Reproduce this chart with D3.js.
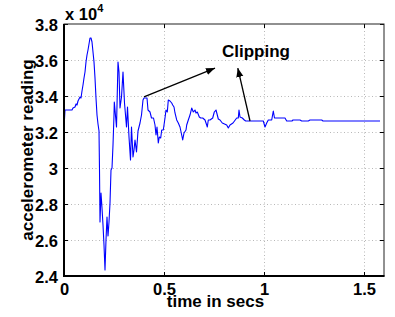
<!DOCTYPE html>
<html>
<head>
<meta charset="utf-8">
<script src="https://cdn.jsdelivr.net/npm/d3@7"></script>
<style>
  html, body { margin: 0; padding: 0; background: #fff; }
  svg { display: block; font-family: "Liberation Sans", Arial, Helvetica, sans-serif; }
</style>
</head>
<body>
<svg id="chart" width="395" height="317"></svg>
<script>
// ---- data ----
const timeSecs = [
  0, 0.005, 0.04, 0.045, 0.055, 0.06, 0.065, 0.07, 0.08, 0.085, 0.09, 0.095, 0.10, 0.105, 0.11, 0.115,
  0.12, 0.125, 0.13, 0.135, 0.14, 0.145, 0.15, 0.155, 0.16, 0.165, 0.17, 0.175, 0.1775, 0.18, 0.185,
  0.19, 0.195, 0.2, 0.205, 0.21, 0.215, 0.22, 0.225, 0.23, 0.235, 0.24, 0.245, 0.25, 0.2515, 0.2625,
  0.27, 0.275, 0.28, 0.2875, 0.295, 0.3025, 0.3125, 0.3175, 0.325, 0.3325, 0.3375, 0.345, 0.35, 0.355,
  0.3625, 0.37, 0.38, 0.3875, 0.395, 0.40, 0.415, 0.42, 0.43, 0.4375, 0.4475, 0.455, 0.46, 0.465,
  0.4715, 0.4765, 0.4835, 0.4885, 0.4965, 0.505, 0.51, 0.5165, 0.5215, 0.53, 0.5385, 0.5435, 0.55,
  0.555, 0.5635, 0.5715, 0.58, 0.5885, 0.5935, 0.60, 0.61, 0.6135, 0.6215, 0.63, 0.6385, 0.6465,
  0.655, 0.66, 0.6665, 0.6765, 0.6835, 0.6935, 0.705, 0.7135, 0.7165, 0.7215, 0.73, 0.7435, 0.7515,
  0.76, 0.7665, 0.7715, 0.78, 0.7915, 0.8135, 0.8215, 0.83, 0.845, 0.8635, 0.8715, 0.875, 0.88,
  0.8915, 0.9015, 0.9085, 0.9965, 1.005, 1.0135, 1.0215, 1.0385, 1.0465, 1.0525, 1.105, 1.1135,
  1.14, 1.145, 1.18, 1.1885, 1.2215, 1.23, 1.2885, 1.295, 1.58
];
const readings = [
  32222, 33222, 33222, 33333, 33389, 33556, 33500, 33722, 33944, 33889, 34278, 34611, 35000, 35333, 35889, 36278,
  36556, 36889, 37222, 37222, 37000, 36444, 35889, 35000, 33889, 32944, 32444, 32056, 29889, 27000, 28611,
  27778, 26833, 25722, 24333, 26000, 27278, 26222, 27000, 28056, 29889, 30000, 31278, 32944, 33667, 32278,
  35889, 35333, 33333, 33944, 35333, 33611, 32278, 33389, 31722, 30444, 32278, 30611, 31000, 31556,
  30889, 32056, 32500, 32944, 33778, 33889, 33889, 33222, 33111, 32778, 32778, 32389, 31833, 32278,
  31389, 31722, 31667, 32111, 32111, 32778, 33222, 33111, 33778, 33722, 33611, 33500, 33389,
  33056, 32667, 32500, 32278, 31833, 31556, 31944, 32111, 32389, 32667, 32944, 33333, 33111,
  33222, 33056, 33111, 32833, 32778, 32778, 32667, 32389, 32278, 32667, 32667, 32778, 33111,
  33222, 32944, 32722, 32667, 32500, 32389, 32222, 32389, 32500, 32778, 32778, 33222, 32833,
  32778, 32667, 32611, 32611, 32278, 32500, 32667, 32667, 33167, 32778, 32778, 32611,
  32611, 32667, 32667, 32611, 32611, 32667, 32667, 32611, 32611
];
const xTicks = [0, 0.5, 1, 1.5];
const xTickLabels = ["0", "0.5", "1", "1.5"];
const yTicks = [24000, 26000, 28000, 30000, 32000, 34000, 36000, 38000];
const yTickLabels = ["2.4", "2.6", "2.8", "3", "3.2", "3.4", "3.6", "3.8"];
const xTitle = "time in secs";
const yTitle = "accelerometer reading";
const annotationText = "Clipping";
// arrows: tail at a data point, head pointing to the label
const arrowTails = [{t: 0.40, v: 33950}, {t: 0.93, v: 32611}];
const arrowHeads = [{t: 0.755, v: 35550}, {t: 0.869, v: 35550}];

// ---- layout ----
const svg = d3.select("#chart");
const L = 64, R = 384, T = 24, B = 276;
const x = d3.scaleLinear().domain([0, 1.6]).range([L, R]);
const y = d3.scaleLinear().domain([24000, 38000]).range([B, T]);

// grid
const grid = svg.append("g").attr("stroke", "#b8b8b8").attr("stroke-width", 1).attr("stroke-dasharray", "1,2.5");
grid.selectAll("line.gx").data(xTicks.filter(d => d > 0)).join("line")
  .attr("x1", d => Math.round(x(d)) + 0.5).attr("x2", d => Math.round(x(d)) + 0.5)
  .attr("y1", T).attr("y2", B);
grid.selectAll("line.gy").data(yTicks.filter(d => d > 24000 && d < 38000)).join("line")
  .attr("y1", d => Math.round(y(d)) + 0.5).attr("y2", d => Math.round(y(d)) + 0.5)
  .attr("x1", L).attr("x2", R);

// data line
const line = d3.line().x((d, i) => x(timeSecs[i])).y((d, i) => y(readings[i]));
svg.append("path").datum(readings)
  .attr("d", line).attr("fill", "none").attr("stroke", "#0000ff").attr("stroke-width", 1.1)
  .attr("stroke-linejoin", "round");

// axes with inward ticks
const fontSize = 16.5;
const xAxis = d3.axisBottom(x).tickValues(xTicks).tickFormat((d, i) => xTickLabels[i]).tickSizeInner(-4).tickSizeOuter(0).tickPadding(7);
const gx = svg.append("g").attr("transform", `translate(0,${B})`).call(xAxis);
const yAxis = d3.axisLeft(y).tickValues(yTicks).tickFormat((d, i) => yTickLabels[i]).tickSizeInner(-4).tickSizeOuter(0).tickPadding(6);
const gy = svg.append("g").attr("transform", `translate(${L},0)`).call(yAxis);
const gx2 = svg.append("g").attr("transform", `translate(0,${T})`).call(d3.axisTop(x).tickValues(xTicks).tickSizeInner(-4).tickSizeOuter(0).tickFormat(""));
const gy2 = svg.append("g").attr("transform", `translate(${R},0)`).call(d3.axisRight(y).tickValues(yTicks).tickSizeInner(-4).tickSizeOuter(0).tickFormat(""));
[gx, gy, gx2, gy2].forEach(g => {
  g.select(".domain").remove();
  g.selectAll(".tick line").attr("stroke", "#000");
  g.selectAll("text").attr("font-size", fontSize).attr("font-weight", "bold").attr("fill", "#000")
    .attr("font-family", "'Liberation Sans', Arial, Helvetica, sans-serif");
});
gx.selectAll("text").attr("dy", "0.71em");
gy.selectAll("text").attr("dy", "0.42em");

// box
svg.append("rect").attr("x", L).attr("y", T).attr("width", R - L).attr("height", B - T)
  .attr("fill", "none").attr("stroke", "#222").attr("stroke-width", 1);
svg.append("line").attr("x1", L).attr("x2", R + 0.5).attr("y1", B).attr("y2", B).attr("stroke", "#000").attr("stroke-width", 2);
svg.append("line").attr("x1", L).attr("x2", L).attr("y1", T).attr("y2", B + 1).attr("stroke", "#000").attr("stroke-width", 2);

// exponent label
const ex = svg.append("text").attr("x", L + 1).attr("y", 20)
  .attr("font-size", fontSize).attr("font-weight", "bold").attr("fill", "#000");
ex.append("tspan").text("x 10");
ex.append("tspan").attr("font-size", 11).attr("dy", -8).text("4");

// axis titles
svg.append("text").attr("x", 215.5).attr("y", 307).attr("text-anchor", "middle")
  .attr("font-size", 17).attr("font-weight", "bold").text(xTitle);
svg.append("text").attr("transform", "translate(33,150) rotate(-90)").attr("text-anchor", "middle")
  .attr("font-size", 17).attr("font-weight", "bold").text(yTitle);

// annotation
svg.append("defs").append("marker").attr("id", "ah").attr("viewBox", "0 0 10 10")
  .attr("refX", 10).attr("refY", 5).attr("markerWidth", 9).attr("markerHeight", 9)
  .attr("markerUnits", "userSpaceOnUse").attr("orient", "auto")
  .append("path").attr("d", "M0,1 L10,5 L0,9 Z").attr("fill", "#000");
arrowTails.forEach((tl, i) => {
  svg.append("line")
    .attr("x1", x(tl.t)).attr("y1", y(tl.v))
    .attr("x2", x(arrowHeads[i].t)).attr("y2", y(arrowHeads[i].v))
    .attr("stroke", "#000").attr("stroke-width", 1.3).attr("marker-end", "url(#ah)");
});
svg.append("text").attr("x", 222).attr("y", 57).attr("font-size", 17).attr("font-weight", "bold").text(annotationText);
</script>
</body>
</html>
